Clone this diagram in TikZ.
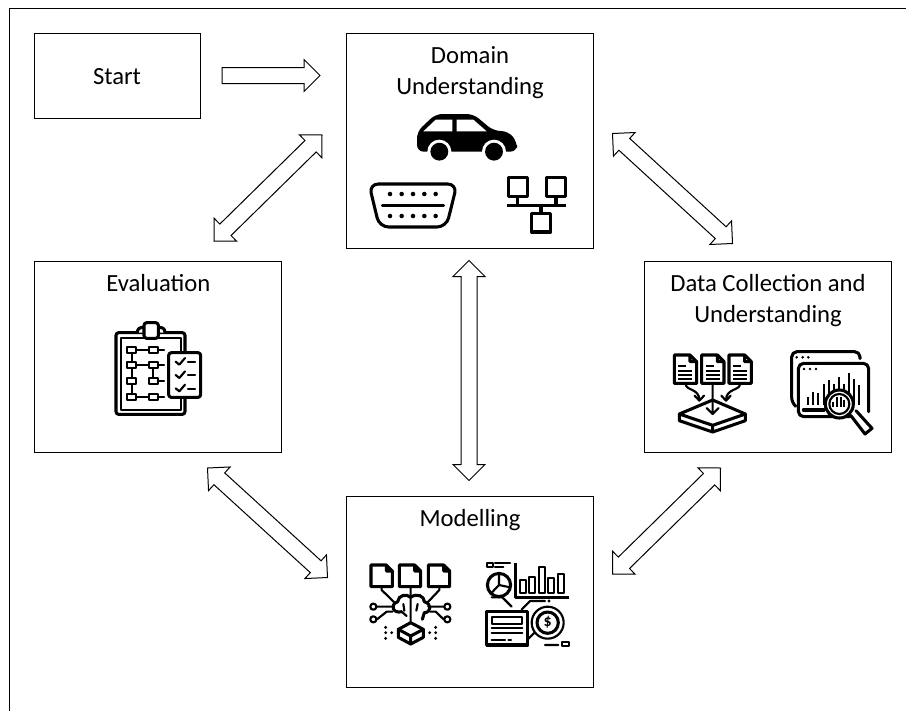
\documentclass[tikz,border=0pt]{standalone}
\usepackage{fontspec}
\setmainfont{Carlito}
\usetikzlibrary{calc}

% sheet of paper with folded corner
\newcommand{\paperdoc}[5]{\draw[iconline, fill=white] (#1,#2) -- ({#1+#3-#5},#2) -- ({#1+#3},{#2+#5})
    -- ({#1+#3},{#2+#4}) -- (#1,{#2+#4}) -- cycle ({#1+#3-#5},#2) -- ({#1+#3-#5},{#2+#5}) -- ({#1+#3},{#2+#5});}

\begin{document}
\begin{tikzpicture}[x = 0.75pt, y = -0.75pt, % one unit is one pixel of the reference
                semithick % line style
            ]

            \tikzstyle{stagebox}=[draw = black, line width = 0.75pt, inner sep = 0pt,
            minimum width = 185.25pt]
            \tikzstyle{stagetitle}=[anchor = north, align = center, inner sep = 0pt,
            font = \fontsize{18.5}{23}\selectfont]
            \tikzstyle{iconline}=[line width = 2.3pt, line cap = round, line join = round]
            \tikzstyle{thinline}=[line width = 1.6pt, line cap = round, line join = round]
            \tikzstyle{zoomed}=[x = 0.25pt, y = -0.25pt]
            \tikzstyle{twoway}=[draw = black, fill = white, line width = 0.75pt, to path = {
              -- ($(\tikztostart)!16.97pt!45:(\tikztotarget)$) -- ($(\tikztostart)!13.42pt!26.57:(\tikztotarget)$)
              -- ($(\tikztotarget)!13.42pt!-26.57:(\tikztostart)$) -- ($(\tikztotarget)!16.97pt!-45:(\tikztostart)$)
              -- (\tikztotarget)
              -- ($(\tikztotarget)!16.97pt!45:(\tikztostart)$) -- ($(\tikztotarget)!13.42pt!26.57:(\tikztostart)$)
              -- ($(\tikztostart)!13.42pt!-26.57:(\tikztotarget)$) -- ($(\tikztostart)!16.97pt!-45:(\tikztotarget)$)
              -- cycle}]
            \tikzstyle{oneway}=[draw = black, fill = white, line width = 0.75pt, to path = {
              -- ($(\tikztostart)!6pt!90:(\tikztotarget)$)
              -- ($(\tikztotarget)!13.42pt!-26.57:(\tikztostart)$) -- ($(\tikztotarget)!16.97pt!-45:(\tikztostart)$)
              -- (\tikztotarget)
              -- ($(\tikztotarget)!16.97pt!45:(\tikztostart)$) -- ($(\tikztotarget)!13.42pt!26.57:(\tikztostart)$)
              -- ($(\tikztostart)!6pt!-90:(\tikztotarget)$)
              -- cycle}]

            \useasboundingbox (0,0) rectangle (906,711);
            \draw[line width = 0.75pt] (906,8) -- (9,8) -- (9,711);

            \node (start) [stagebox, minimum width = 124.5pt, minimum height = 63.75pt] at (117,75.5) {};
            \node (domain) [stagebox, minimum height = 161.25pt] at (469.5,140.5) {};
            \node (evaluation) [stagebox, minimum height = 143pt] at (158.4,357.2) {};
            \node (data) [stagebox, minimum height = 143pt, right of=evaluation, node distance = 457.3pt] {};
            \node (modelling) [stagebox, minimum height = 143pt, below of=domain, node distance = 338.5pt] {};

            \node (starttitle) [stagetitle, anchor = center] at (117,76.5) {Start};
            \node (domaintitle) [stagetitle] at (470,46) {Domain\\Understanding};
            \node (evaluationtitle) [stagetitle] at (158.4,274) {Evaluation};
            \node (datatitle) [stagetitle] at (768,274) {Data Collection and\\Understanding};
            \node (modellingtitle) [stagetitle] at (470,509) {Modelling};

            \coordinate (startout) at (222,75.5); \coordinate (domainin) at (320,75.5);
            \coordinate (domainsw) at (322,135); \coordinate (evaluationne) at (214,241);
            \coordinate (domainse) at (612.5,133.5); \coordinate (datanw) at (732.5,243.5);
            \coordinate (domains) at (469,260.5); \coordinate (modellingn) at (469,480.5);
            \coordinate (evaluationse) at (207.5,468); \coordinate (modellingnw) at (327.5,577.5);
            \coordinate (datasw) at (720.5,468); \coordinate (modellingne) at (612.5,574);

            \path[oneway] (startout) to (domainin);
            \path[twoway] (domainsw) to (evaluationne);
            \path[twoway] (domainse) to (datanw);
            \path[twoway] (domains) to (modellingn);
            \path[twoway] (evaluationse) to (modellingnw);
            \path[twoway] (datasw) to (modellingne);

            % car, connector and network
            \begin{scope}[shift = {(345,30)}, zoomed]
              \fill[rounded corners = 5pt] (216,365) -- (216,305) -- (272,252) -- (385,252) -- (445,302)
                -- (490,304) -- (516,335) -- (516,365) -- cycle;
              \fill[white] (235,304) -- (272,269) -- (322,269) -- (322,304) -- cycle
                (335,269) -- (385,269) -- (425,304) -- (335,304) -- cycle;
              \foreach \w in {283,447} {
                \fill[white] (\w,365) circle (9pt);
                \fill (\w,365) circle (6.7pt);
              }
              \draw[iconline, rounded corners = 7pt] (72,462) -- (336,462) -- (304,591) -- (103,591) -- cycle;
              \draw[iconline] (112,526) -- (296,526);
              \foreach \w in {135,170,204,238,272} {
                \fill (\w,492) circle (1.7pt);
                \fill (\w,558) circle (1.7pt);
              }
              \draw[iconline, line cap = butt] (490,442) rectangle (547,500) (605,442) rectangle (662,500)
                (560,550) rectangle (617,606);
              \draw[iconline, line cap = butt] (518,500) -- (518,526) (633,500) -- (633,526)
                (487,526) -- (662,526) (588,526) -- (588,550);
            \end{scope}

            % clipboard with flow chart and check list
            \begin{scope}[shift = {(80,310)}, zoomed]
              \draw[iconline, rounded corners = 2pt] (108,68) rectangle (315,313);
              \draw[thinline] (122,83) rectangle (302,300);
              \draw[iconline, fill = white] (172,68) .. controls (172,55) and (180,52) .. (192,52)
                -- (235,52) .. controls (247,52) and (255,55) .. (255,68);
              \draw[iconline, fill = white, rounded corners = 2pt] (192,38) rectangle (235,85);
              \foreach \r in {120,165,213,262} {
                \draw[thinline, fill = white] (142,{\r-9}) rectangle (168,{\r+9});
                \draw[thinline, fill = white] (207,{\r-9}) rectangle (233,{\r+9});
              }
              \draw[thinline] (168,120) -- (207,120) (233,120) -- (252,120) (168,165) -- (207,165)
                (233,165) -- (252,165) (233,213) -- (252,213) (168,262) -- (207,262) (233,262) -- (252,262)
                (155,129) -- (155,156) (155,174) -- (155,204) (155,222) -- (155,253) (220,174) -- (220,204);
              \draw[iconline, fill = white, rounded corners = 2pt] (266,128) rectangle (362,262);
              \foreach \r in {155,195,235} {
                \draw[thinline] (287,\r) -- (298,{\r+9}) -- (315,{\r-11});
                \draw[thinline] (324,{\r+1}) -- (345,{\r+1});
              }
            \end{scope}

            % papers into a box, and charts under a lens
            \begin{scope}[shift = {(640,260)}, zoomed]
              \foreach \w in {103,185,267} {
                \paperdoc{\w}{285}{67}{85}{20}
              }
              \foreach \w in {115,197,279} {
                \draw[thinline, line cap = butt] (\w,318) -- ({\w+24},318) (\w,332) -- ({\w+42},332)
                  (\w,346) -- ({\w+42},346) (\w,358) -- ({\w+42},358);
              }
              \draw[iconline] (118,462) -- (218,420) -- (316,462) -- (218,496) -- cycle;
              \draw[iconline] (118,462) -- (118,482) -- (218,516) -- (316,482) -- (316,462) (218,496) -- (218,516);
              \draw[thinline] (218,372) -- (218,460) (200,444) -- (218,462) -- (236,444);
              \draw[thinline] (137,372) .. controls (137,392) and (178,385) .. (178,420)
                (164,407) -- (178,422) -- (192,407);
              \draw[thinline] (300,372) .. controls (300,392) and (258,385) .. (258,420)
                (244,407) -- (258,422) -- (272,407);
              \draw[iconline, rounded corners = 4pt] (466,438) -- (455,428) -- (455,275) -- (660,275) -- (660,296);
              \draw[iconline, rounded corners = 4pt] (630,470) -- (475,470) -- (475,310) -- (686,310) -- (686,455);
              \foreach \w/\h in {470/292,488/292,505/292,492/327,510/327,528/327} {
                \fill (\w,\h) circle (1.1pt);
              }
              \foreach \w/\h in {505/412,520/395,535/400,553/372,568/360,583/372,598/352,612/372,626/340,642/358,658/376} {
                \draw[thinline, line cap = butt] (\w,\h) -- (\w,436);
              }
              \draw[iconline] (490,450) -- (552,450);
              \draw[iconline, fill = white] (598,432) circle (10.5pt);
              \draw[thinline] (598,432) circle (7.5pt);
              \foreach \w/\h in {580/425,591/412,602/412,613/420} {
                \draw[thinline, line cap = butt] (\w,\h) -- (\w,440);
              }
              \draw[iconline] (632,466) -- (675,522) -- (696,505) -- (648,452);
            \end{scope}

            % papers into a brain and a cube
            \begin{scope}[shift = {(345,490)}, zoomed]
              \foreach \w in {78,163,250} {
                \paperdoc{\w}{225}{64}{65}{18}
              }
              \draw[thinline] (110,290) -- (110,300) -- (148,337) (197,290) -- (197,395) (283,290) -- (283,300) -- (248,337)
                (145,350) -- (97,350) (142,365) -- (125,365) -- (96,388) (250,350) -- (296,350) (255,365) -- (272,365) -- (296,388);
              \draw[thinline, fill = white] (85,350) circle (2.3pt) (85,388) circle (2.3pt)
                (307,350) circle (2.3pt) (307,388) circle (2.3pt);
              \draw[iconline] (170,365) .. controls (145,372) and (132,345) .. (158,335) .. controls (160,315) and (185,310) .. (197,322)
                .. controls (215,308) and (238,318) .. (238,335) .. controls (262,342) and (258,368) .. (238,368) -- (232,388);
              \draw[thinline] (175,342) -- (178,362) (218,342) -- (214,362) (170,365) -- (185,378);
              \draw[iconline, fill = white] (160,418) -- (197,398) -- (235,418) -- (235,442) -- (197,462) -- (160,442) -- cycle;
              \draw[iconline] (160,418) -- (197,438) -- (235,418) (197,438) -- (197,462);
              \foreach \w/\h in {122/412,122/428,122/445,140/428,272/412,272/428,272/445,254/428} {
                \fill (\w,\h) circle (1.2pt);
              }
            \end{scope}

            % pie and bars, page and coin
            \begin{scope}[shift = {(345,490)}, zoomed]
              \draw[thinline] (425,220) rectangle (445,232) (450,220) -- (495,220) (450,232) -- (475,232);
              \draw[iconline] (462,285) circle (8.7pt);
              \draw[thinline] (462,250) -- (462,285) -- (495,292) (462,285) -- (440,308);
              \draw[iconline, line cap = butt] (512,220) -- (512,322) -- (672,322);
              \foreach \w/\h in {525/270,553/262,582/230,610/265,640/252} {
                \draw[thinline] (\w,\h) rectangle ({\w+17},308);
              }
              \draw[thinline] (440,322) -- (472,322) -- (500,350) (530,358) -- (555,333) -- (600,333);
              \fill (612,333) circle (1.2pt);
              \draw[iconline, line width = 2.6pt] (425,365) rectangle (548,465);
              \draw[thinline] (440,382) rectangle (532,402) (440,415) -- (532,415) (440,430) -- (532,430) (440,450) -- (480,450) (490,450) -- (498,450);
              \draw[thinline] (548,448) -- (575,422) (600,465) -- (640,465);
              \draw[thinline, fill = white] (608,398) circle (12pt);
              \draw[iconline, fill = white] (608,398) circle (8pt);
              \node (coinsign) [inner sep = 0pt, font = \bfseries\fontsize{12}{12}\selectfont] at (608,398) {\$};
              \draw[thinline] (652,455) rectangle (672,467);
            \end{scope}
        \end{tikzpicture}
\end{document}
